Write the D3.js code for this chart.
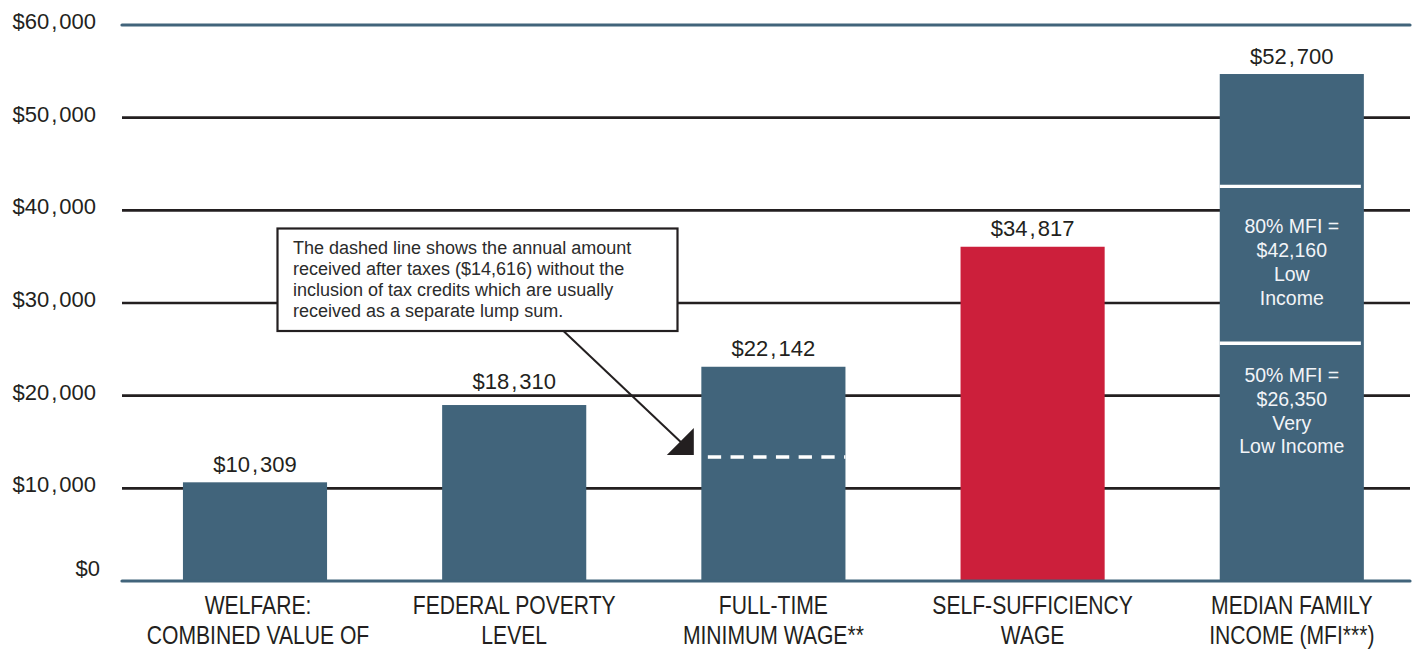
<!DOCTYPE html>
<html>
<head>
<meta charset="utf-8">
<script src="https://cdn.jsdelivr.net/npm/d3@7"></script>
<style>
  html, body { margin: 0; padding: 0; background: #ffffff; }
  svg { display: block; }
</style>
</head>
<body>
<svg id="chart" width="1412" height="649"></svg>
<script>
// ---------- DATA ----------
const categories = ["WELFARE", "FPL", "FTMW", "SSW", "MFI"];
const categoryLabels = [
  ["WELFARE:", "COMBINED VALUE OF"],
  ["FEDERAL POVERTY", "LEVEL"],
  ["FULL-TIME", "MINIMUM WAGE**"],
  ["SELF-SUFFICIENCY", "WAGE"],
  ["MEDIAN FAMILY", "INCOME (MFI***)"]
];
// bar heights (axis units)
const barValues = [10650, 18990, 23120, 36070, 54710];
const valueLabels = ["$10,309", "$18,310", "$22,142", "$34,817", "$52,700"];
const highlighted = ["SSW"];
const yTicks = [0, 10000, 20000, 30000, 40000, 50000, 60000];
const yTickLabels = ["$0", "$10,000", "$20,000", "$30,000", "$40,000", "$50,000", "$60,000"];
const dashedCategory = "FTMW";
const dashedValue = 13380;
const mfiCategory = "MFI";
const mfiSplits = [42590, 25650];
const mfiNotes = [
  ["80% MFI =", "$42,160", "Low", "Income"],
  ["50% MFI =", "$26,350", "Very", "Low Income"]
];
const annotationLines = [
  "The dashed line shows the annual amount",
  "received after taxes ($14,616) without the",
  "inclusion of tax credits which are usually",
  "received as a separate lump sum."
];

// ---------- STYLE ----------
const BLUE = "#41647b";
const RED = "#cc1f3b";
const INK = "#231f20";
const labelGaps = [10.5, 16, 10.5, 10.5, 10.5];

const svg = d3.select("#chart");
const y = d3.scaleLinear().domain([0, 60000]).range([581, 25]);
const x = d3.scaleBand().domain(categories).range([125.4, 1421.4])
  .paddingInner(0.444).paddingOuter(0.222);
const gridX0 = 122, gridX1 = 1410;

function commaText(sel, str, gap) {
  const parts = str.split(",");
  parts.forEach((p, i) => {
    if (i > 0) {
      sel.append("tspan").attr("dx", gap).text(",");
      sel.append("tspan").attr("dx", gap).text(p);
    } else {
      sel.append("tspan").text(p);
    }
  });
}

// gridlines (inner)
svg.append("g").selectAll("line")
  .data(yTicks.filter(t => t !== 0 && t !== 60000))
  .join("line")
  .attr("x1", gridX0).attr("x2", gridX1)
  .attr("y1", d => y(d)).attr("y2", d => y(d))
  .attr("stroke", INK).attr("stroke-width", 2.6);

// top line
svg.append("line")
  .attr("x1", gridX0).attr("x2", gridX1)
  .attr("y1", y(60000)).attr("y2", y(60000))
  .attr("stroke", BLUE).attr("stroke-width", 3.2).attr("stroke-linecap", "round");

// y tick labels
svg.append("g").selectAll("text")
  .data(yTicks)
  .join("text")
  .attr("x", (d) => d === 0 ? 100 : 96)
  .attr("y", d => d === 0 ? y(d) - 5 : y(d) + 4)
  .attr("text-anchor", "end")
  .attr("font-family", "'Liberation Sans', Arial, sans-serif")
  .attr("font-size", 22)
  .attr("fill", INK)
  .each(function(d, i) { commaText(d3.select(this), yTickLabels[i], 2); });

// bars
svg.append("g").selectAll("rect")
  .data(categories)
  .join("rect")
  .attr("x", d => x(d))
  .attr("width", x.bandwidth())
  .attr("y", (d, i) => y(barValues[i]))
  .attr("height", (d, i) => y(0) - y(barValues[i]))
  .attr("fill", d => highlighted.includes(d) ? RED : BLUE);

// value labels
svg.append("g").selectAll("text")
  .data(categories)
  .join("text")
  .attr("x", d => x(d) + x.bandwidth() / 2)
  .attr("y", (d, i) => y(barValues[i]) - labelGaps[i])
  .attr("text-anchor", "middle")
  .attr("font-family", "'Liberation Sans', Arial, sans-serif")
  .attr("font-size", 22)
  .attr("fill", INK)
  .each(function(d, i) { commaText(d3.select(this), valueLabels[i], 2); });

// dashed line in FTMW bar
svg.append("line")
  .attr("x1", x(dashedCategory) + 6.5).attr("x2", x(dashedCategory) + x.bandwidth())
  .attr("y1", y(dashedValue)).attr("y2", y(dashedValue))
  .attr("stroke", "#ffffff").attr("stroke-width", 3.5)
  .attr("stroke-dasharray", "13.3 9.4");

// MFI splits
svg.append("g").selectAll("line")
  .data(mfiSplits)
  .join("line")
  .attr("x1", x(mfiCategory)).attr("x2", x(mfiCategory) + x.bandwidth() - 3)
  .attr("y1", d => y(d)).attr("y2", d => y(d))
  .attr("stroke", "#ffffff").attr("stroke-width", 3.4);

// MFI notes
const noteOffsets = [47, 39];
const noteSpacing = [24, 23.7];
mfiNotes.forEach((lines, k) => {
  const t = svg.append("text")
    .attr("text-anchor", "middle")
    .attr("font-family", "'Liberation Sans', Arial, sans-serif")
    .attr("font-size", 19.5)
    .attr("fill", "#f2f4f8");
  lines.forEach((ln, j) => {
    t.append("tspan")
      .attr("x", x(mfiCategory) + x.bandwidth() / 2)
      .attr("y", y(mfiSplits[k]) + noteOffsets[k] + j * noteSpacing[k])
      .text(ln);
  });
});

// zero baseline
svg.append("line")
  .attr("x1", gridX0).attr("x2", gridX1)
  .attr("y1", y(0)).attr("y2", y(0))
  .attr("stroke", BLUE).attr("stroke-width", 3.2).attr("stroke-linecap", "round");

// category labels (condensed via horizontal scale)
const catG = svg.append("g");
categories.forEach((c, i) => {
  const g = catG.append("g")
    .attr("transform", `translate(${x(c) + x.bandwidth() / 2 + (i === 0 ? 3 : 0)},0) scale(0.845,1)`);
  const t = g.append("text")
    .attr("text-anchor", "middle")
    .attr("font-family", "'Liberation Sans', Arial, sans-serif")
    .attr("font-size", 25)
    .attr("fill", INK);
  categoryLabels[i].forEach((ln, j) => {
    t.append("tspan")
      .attr("x", 0)
      .attr("y", 614.5 + j * 29.5)
      .text(ln);
  });
});

// annotation box
const box = { x: 277.5, y: 228.5, w: 400, h: 102.5 };
svg.append("rect")
  .attr("x", box.x).attr("y", box.y).attr("width", box.w).attr("height", box.h)
  .attr("fill", "#ffffff").attr("stroke", INK).attr("stroke-width", 2.2);
const at = svg.append("text")
  .attr("font-family", "'Liberation Sans', Arial, sans-serif")
  .attr("font-size", 18)
  .attr("fill", "#2b2b2b");
annotationLines.forEach((ln, j) => {
  at.append("tspan").attr("x", box.x + 15.5).attr("y", box.y + 25 + j * 21.2).text(ln);
});

// arrow
const tipX = x(dashedCategory) - 7.5, tipY = y(dashedValue) - 2;
const startX = 563.5, startY = box.y + box.h;
svg.append("line")
  .attr("x1", startX).attr("y1", startY)
  .attr("x2", tipX - 12).attr("y2", tipY - 12)
  .attr("stroke", INK).attr("stroke-width", 2);
svg.append("polygon")
  .attr("points", [[tipX, tipY], [tipX - 27, tipY], [tipX, tipY - 27]].map(p => p.join(",")).join(" "))
  .attr("fill", INK);
</script>
</body>
</html>
